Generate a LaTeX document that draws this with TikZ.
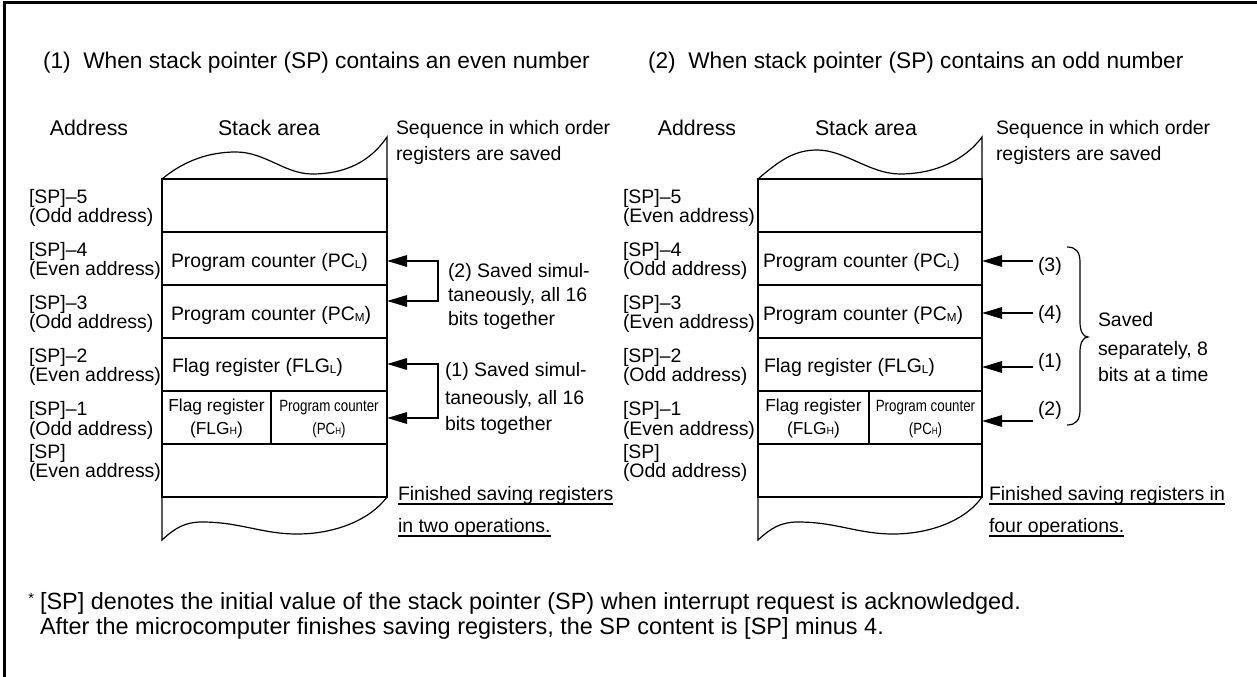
\documentclass[tikz,border=0pt]{standalone}
\usepackage{fontspec}
\setmainfont{Liberation Sans}
\newfontfamily\narrowfont[FakeStretch=0.82]{Liberation Sans}
\usetikzlibrary{arrows.meta}
\newcommand\lowsub[1]{\raisebox{-0.6pt}{\scalebox{0.6}{#1}}}
\tikzset{
  lab/.style={inner sep=0pt, outer sep=0pt, font=\fontsize{14.6pt}{17pt}\selectfont},
  head/.style={inner sep=0pt, outer sep=0pt, font=\fontsize{16pt}{19pt}\selectfont},
  ttl/.style={inner sep=0pt, outer sep=0pt, font=\fontsize{17pt}{20pt}\selectfont},
  notetxt/.style={inner sep=0pt, outer sep=0pt, font=\fontsize{17.6pt}{21pt}\selectfont},
  smallflag/.style={inner sep=0pt, outer sep=0pt, font=\fontsize{13pt}{15pt}\selectfont},
  smallpc/.style={inner sep=0pt, outer sep=0pt, font=\narrowfont\fontsize{12.2pt}{14pt}\selectfont},
  rowbox/.style={draw, line width=1.2pt, minimum height=39.75pt, inner sep=0pt, outer sep=0pt},
  wave/.style={line width=0.9pt},
  arr/.style={line width=1.5pt, -{Triangle[length=15pt,width=8.5pt]}},
  darr/.style={line width=1.5pt, {Triangle[length=15pt,width=8.5pt]}-{Triangle[length=15pt,width=8.5pt]}},
  ul/.style={line width=0.9pt},
  brace/.style={line width=0.9pt}
}
\begin{document}
\begin{tikzpicture}[x=0.75pt,y=-0.75pt]
\useasboundingbox (0,0) rectangle (1257,677);
% frame (clipped at right and bottom)
\draw[line width=2.25pt] (1260,2.3) -- (4.5,2.3) -- (4.5,680);

% titles
\node[ttl, anchor=base west] (t1) at (43,69) {(1)\ \ When stack pointer (SP) contains an even number};
\node[ttl, anchor=base west] (t2) at (648,69) {(2)\ \ When stack pointer (SP) contains an odd number};

% ===== LEFT DIAGRAM =====
\node[head, anchor=base] (hA1) at (89,136) {Address};
\node[head, anchor=base] (hS1) at (269,136) {Stack area};
\node[lab, anchor=base west] (sq1a) at (396,135) {Sequence in which order};
\node[lab, anchor=base west] (sq1b) at (396,161) {registers are saved};

\node[rowbox, minimum width=168.75pt] (L1) at (274.5,205.5) {};
\node[rowbox, minimum width=168.75pt] (L2) at (274.5,258.5) {};
\node[rowbox, minimum width=168.75pt] (L3) at (274.5,311.5) {};
\node[rowbox, minimum width=168.75pt] (L4) at (274.5,364.5) {};
\node[rowbox, minimum width=81.75pt] (L5a) at (216.5,417.5) {};
\node[rowbox, minimum width=87pt] (L5b) at (329,417.5) {};
\node[rowbox, minimum width=168.75pt] (L6) at (274.5,470.5) {};

\draw[wave] (L1.north west) .. controls (185,160) and (210,152) .. (236,152)
  .. controls (265,152) and (285,174) .. (312,174)
  .. controls (345,174) and (370,162) .. (387,137) -- (L1.north east);
\draw[wave] (L6.south west) -- (162,540) .. controls (175,528) and (185,522) .. (202,522)
  .. controls (240,522) and (262,534) .. (297,534)
  .. controls (335,534) and (370,520) .. (L6.south east);

\node[lab, anchor=base west] (L2t) at (171,268) {Program counter (PC\lowsub{L})};
\node[lab, anchor=base west] (L3t) at (171,321) {Program counter (PC\lowsub{M})};
\node[lab, anchor=base west] (L4t) at (172,373) {Flag register (FLG\lowsub{L})};
\node[smallflag, anchor=base] (L5at1) at (216.5,411.5) {Flag register};
\node[smallflag, anchor=base] (L5at2) at (216.5,434) {(FLG\lowsub{H})};
\node[smallpc, anchor=base] (L5bt1) at (329,411.5) {Program counter};
\node[smallpc, anchor=base] (L5bt2) at (329,434) {(PC\lowsub{H})};

% address labels left
\node[lab, anchor=base west] (la1a) at (29,204) {[SP]--5};
\node[lab, anchor=base west] (la1b) at (29,223) {(Odd address)};
\node[lab, anchor=base west] (la2a) at (29,257) {[SP]--4};
\node[lab, anchor=base west] (la2b) at (29,276) {(Even address)};
\node[lab, anchor=base west] (la3a) at (29,310) {[SP]--3};
\node[lab, anchor=base west] (la3b) at (29,329) {(Odd address)};
\node[lab, anchor=base west] (la4a) at (29,363) {[SP]--2};
\node[lab, anchor=base west] (la4b) at (29,382) {(Even address)};
\node[lab, anchor=base west] (la5a) at (29,416) {[SP]--1};
\node[lab, anchor=base west] (la5b) at (29,435) {(Odd address)};
\node[lab, anchor=base west] (la6a) at (29,458) {[SP]};
\node[lab, anchor=base west] (la6b) at (29,477) {(Even address)};

% brackets left
\coordinate (bu1) at (438,261);
\coordinate (bu2) at (438,301);
\draw[darr] (bu1 -| L2.east) -- (bu1) -- (bu2) -- (bu2 -| L3.east);
\coordinate (bl1) at (438,364);
\coordinate (bl2) at (438,418);
\draw[darr] (bl1 -| L4.east) -- (bl1) -- (bl2) -- (bl2 -| L5b.east);

\node[lab, anchor=base west] (bu1t) at (448,278) {(2) Saved simul-};
\node[lab, anchor=base west] (bu2t) at (448,302) {taneously, all 16};
\node[lab, anchor=base west] (bu3t) at (448,326) {bits together};
\node[lab, anchor=base west] (bl1t) at (445,377) {(1) Saved simul-};
\node[lab, anchor=base west] (bl2t) at (445,404) {taneously, all 16};
\node[lab, anchor=base west] (bl3t) at (445,431) {bits together};

\node[lab, anchor=base west] (fin1a) at (398,500) {Finished saving registers};
\node[lab, anchor=base west] (fin1b) at (398,532) {in two operations.};
\draw[ul] ([yshift=-3pt]fin1a.base west) -- ([yshift=-3pt]fin1a.base east);
\draw[ul] ([yshift=-3pt]fin1b.base west) -- ([yshift=-3pt]fin1b.base east);

% ===== RIGHT DIAGRAM =====
\node[head, anchor=base] (hA2) at (697,136) {Address};
\node[head, anchor=base] (hS2) at (866,136) {Stack area};
\node[lab, anchor=base west] (sq2a) at (996,135) {Sequence in which order};
\node[lab, anchor=base west] (sq2b) at (996,161) {registers are saved};

\node[rowbox, minimum width=168pt] (R1) at (870,205.5) {};
\node[rowbox, minimum width=168pt] (R2) at (870,258.5) {};
\node[rowbox, minimum width=168pt] (R3) at (870,311.5) {};
\node[rowbox, minimum width=168pt] (R4) at (870,364.5) {};
\node[rowbox, minimum width=83.25pt] (R5a) at (813.5,417.5) {};
\node[rowbox, minimum width=84.75pt] (R5b) at (925.5,417.5) {};
\node[rowbox, minimum width=168pt] (R6) at (870,470.5) {};

\draw[wave] (R1.north west) .. controls (780,160) and (795,150) .. (817,150)
  .. controls (845,150) and (870,174) .. (900,174)
  .. controls (935,174) and (965,160) .. (982,137) -- (R1.north east);
\draw[wave] (R6.south west) -- (758,540) .. controls (771,528) and (781,522) .. (798,522)
  .. controls (836,522) and (858,534) .. (893,534)
  .. controls (931,534) and (966,520) .. (R6.south east);

\node[lab, anchor=base west] (R2t) at (763,268) {Program counter (PC\lowsub{L})};
\node[lab, anchor=base west] (R3t) at (763,321) {Program counter (PC\lowsub{M})};
\node[lab, anchor=base west] (R4t) at (764,373) {Flag register (FLG\lowsub{L})};
\node[smallflag, anchor=base] (R5at1) at (813.5,411.5) {Flag register};
\node[smallflag, anchor=base] (R5at2) at (813.5,434) {(FLG\lowsub{H})};
\node[smallpc, anchor=base] (R5bt1) at (925.5,411.5) {Program counter};
\node[smallpc, anchor=base] (R5bt2) at (925.5,434) {(PC\lowsub{H})};

% address labels right
\node[lab, anchor=base west] (ra1a) at (623,204) {[SP]--5};
\node[lab, anchor=base west] (ra1b) at (623,223) {(Even address)};
\node[lab, anchor=base west] (ra2a) at (623,257) {[SP]--4};
\node[lab, anchor=base west] (ra2b) at (623,276) {(Odd address)};
\node[lab, anchor=base west] (ra3a) at (623,310) {[SP]--3};
\node[lab, anchor=base west] (ra3b) at (623,329) {(Even address)};
\node[lab, anchor=base west] (ra4a) at (623,363) {[SP]--2};
\node[lab, anchor=base west] (ra4b) at (623,382) {(Odd address)};
\node[lab, anchor=base west] (ra5a) at (623,416) {[SP]--1};
\node[lab, anchor=base west] (ra5b) at (623,435) {(Even address)};
\node[lab, anchor=base west] (ra6a) at (623,458) {[SP]};
\node[lab, anchor=base west] (ra6b) at (623,477) {(Odd address)};

% arrows right
\coordinate (s3) at (1033,261);
\coordinate (s4) at (1033,313);
\coordinate (s1) at (1033,367);
\coordinate (s2) at (1033,421);
\draw[arr] (s3) -- (s3 -| R2.east);
\draw[arr] (s4) -- (s4 -| R3.east);
\draw[arr] (s1) -- (s1 -| R4.east);
\draw[arr] (s2) -- (s2 -| R5b.east);
\node[lab, anchor=base west] (n3) at (1038,272) {(3)};
\node[lab, anchor=base west] (n4) at (1038,320) {(4)};
\node[lab, anchor=base west] (n1) at (1038,368) {(1)};
\node[lab, anchor=base west] (n2) at (1038,415) {(2)};

\draw[brace] (1067,247) .. controls (1076,247) and (1080,252) .. (1080,262) -- (1080,322)
  .. controls (1080,331) and (1083,337) .. (1088,337)
  .. controls (1083,337) and (1080,343) .. (1080,352) -- (1080,410)
  .. controls (1080,420) and (1076,425) .. (1067,425);

\node[lab, anchor=base west] (sv1) at (1098,327) {Saved};
\node[lab, anchor=base west] (sv2) at (1098,355) {separately, 8};
\node[lab, anchor=base west] (sv3) at (1098,382) {bits at a time};

\node[lab, anchor=base west] (fin2a) at (989,500) {Finished saving registers in};
\node[lab, anchor=base west] (fin2b) at (989,532) {four operations.};
\draw[ul] ([yshift=-3pt]fin2a.base west) -- ([yshift=-3pt]fin2a.base east);
\draw[ul] ([yshift=-3pt]fin2b.base west) -- ([yshift=-3pt]fin2b.base east);

% note
\node[inner sep=0pt, anchor=base west, font=\fontsize{11pt}{12pt}\selectfont] (ast) at (28,603) {*};
\node[notetxt, anchor=base west] (nt1) at (40,609) {[SP] denotes the initial value of the stack pointer (SP) when interrupt request is acknowledged.};
\node[notetxt, anchor=base west] (nt2) at (40,634) {After the microcomputer finishes saving registers, the SP content is [SP] minus 4.};
\end{tikzpicture}
\end{document}
